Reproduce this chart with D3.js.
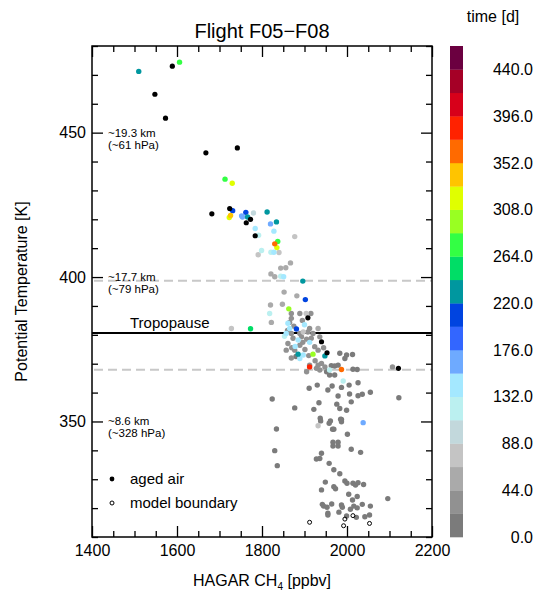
<!DOCTYPE html>
<html><head><meta charset="utf-8">
<script src="https://cdn.jsdelivr.net/npm/d3@7"></script>
<style>body{margin:0;background:#fff} text{font-family:"Liberation Sans",Arial,Helvetica,sans-serif}</style>
</head><body><svg id="c" width="537" height="599"></svg>
<script>
// ---------- data ----------
const title = "Flight F05\u2212F08";
const xTicksMajor = [1400, 1600, 1800, 2000, 2200];
const yTicksMajor = [350, 400, 450];
const colorTicks = [0, 44, 88, 132, 176, 220, 264, 308, 352, 396, 440];
const colorBins = [0,22,44,66,88,110,132,154,176,198,220,242,264,286,308,330,352,374,396,418,440,462];
const binColors = ["#7b7b7b","#919191","#aaaaaa","#c4c4c4","#c2d8dc","#bbf0f0","#a4e8ff","#6eaaff","#3366ff","#0044e0",
  "#00979f","#00dd66","#33ff44","#99ff22","#e0ff00","#ffc400","#ff6a00","#ff2200","#d7001a","#a50026","#6b0040"];
// colored points: [CH4 ppbv, theta K, time d]
const ch4 = [1510,1606,1713,1730,1731,1726,1723,1762,1754,1766,1780,1812,1834,1820,1828,1784,1792,1877,1830,1837,1835,1799,1821,1828,1840,1791,1867,1856,1844,1821,1830,1844,1851,1896,1852,1882,1902,1820,1848,1863,1818,1822,1728,1773,1869,1889,1904,1915,1869,1865,1752,
 1861,1865,1881,1857,1869,1889,1897,1908,1912,1932,1920,1873,1885,1896,1912,1861,1889,1857,1877,1901,1869,1885,1897,1889,1920,1948,1916,1936,1932,1924,1912,1932,1928,1936,1940,1912,1905,1948,1853,1878,1893,1905,1870,1880,1910,1925,1945,1860,1875,1895,1900,
 1983,1999,2013,1995,1963,1971,1979,1987,2014,2024,1952,1959,1971,1959,2107,1991,2026,1965,1987,2005,1911,1930,1955,2055,2036,2026,1979,2006,2122,1824,1934,1976,2010,1877,1922,1983,1999,1987,1987,2038,1834,2001,1932,1937,1938,1958,1961,1966,1969,1985,
 1967,1979,1967,1979,1830,2010,2032,1940,1936,1928,1836,1958,1969,1983,1949,1995,2000,2014,2020,2026,2039,1969,1973,1940,2004,2024,2013,2096,1942,1945,1953,1964,1987,1989,2008,2016,2024,2036,2055,1955,1955,1981,1999,2022,2042,2053];
const theta = [471.2,474.4,433.9,432.5,423.0,421.3,420.6,422.4,420.8,420.8,422.2,422.5,419.1,418.4,415.9,416.8,414.5,414.0,411.5,412.3,410.2,409.2,408.6,408.6,408.5,407.7,404.9,403.2,403.1,401.1,400.1,400.3,400.1,398.6,394.8,393.5,392.2,390.3,390.6,389.0,387.4,384.3,382.2,382.1,387.4,387.4,387.4,387.4,385.7,384.3,421.2,
 384.0,382.2,382.0,380.5,380.5,380.5,381.0,381.0,382.2,382.2,380.5,378.8,378.2,377.4,377.4,377.0,376.4,374.7,374.7,374.9,372.0,373.3,373.0,371.8,373.3,372.7,378.8,379.3,374.7,375.9,369.5,369.5,368.4,367.8,370.1,368.9,367.2,368.9,379.5,376.0,379.3,378.5,375.5,372.5,372.8,371.0,375.5,381.5,383.0,385.0,383.5,
 373.6,373.0,373.2,371.8,369.3,369.2,369.5,368.0,368.1,368.0,367.2,366.1,366.1,367.8,368.9,364.0,363.4,362.3,361.8,362.6,361.5,362.6,360.9,360.1,359.4,358.9,358.8,359.5,358.2,357.8,356.5,356.0,356.8,354.7,354.2,354.5,353.9,350.7,349.9,349.6,347.4,345.6,348.5,351.1,350.2,349.4,350.2,347.3,347.3,350.8,
 342.8,342.8,341.5,341.5,339.9,340.4,339.3,339.0,337.2,337.0,334.7,335.5,333.3,331.9,329.0,329.4,328.6,328.6,328.0,328.8,328.2,327.4,326.7,326.3,324.8,324.0,322.8,323.3,321.3,320.7,320.3,321.4,321.1,320.3,319.6,320.7,320.1,321.3,320.7,318.2,317.6,318.6,317.3,316.8,317.0,317.6];
const age = [230,275,270,315,210,340,320,210,165,230,100,230,230,165,140,140,120,75,360,270,315,120,120,140,75,75,55,55,55,55,55,120,140,230,55,55,210,55,55,295,120,55,75,250,40,40,70,40,40,30,160,
 140,140,200,140,30,30,75,30,40,60,30,30,140,30,140,30,30,30,30,30,30,230,140,140,295,230,30,30,30,30,30,30,30,30,30,385,30,30,120,140,30,30,30,10,30,30,30,30,30,30,140,
 10,10,10,10,10,10,10,360,10,10,10,10,10,120,30,120,10,10,10,10,10,10,10,10,10,10,10,10,10,10,10,10,10,10,10,10,10,10,10,170,10,10,70,10,10,10,10,10,10,10,
 10,10,10,10,10,10,10,10,10,10,10,10,10,10,10,10,10,10,10,10,10,10,10,10,10,10,10,10,10,10,10,10,10,10,10,10,10,10,10,10,10,10,10,10,10,10];
// aged air (black)
const agedCh4 = [1589,1548,1573,1668,1742,1682,1724,1763,1773,1784,1908,1940,1953,2121];
const agedTheta = [473.0,463.3,455.0,443.0,444.7,421.9,423.7,418.8,420.0,414.3,385.9,377.6,373.8,368.4];
// model boundary (open)
const bndCh4 = [1912,1995,1992,2014,2053];
const bndTheta = [315.1,316.2,313.9,317.4,314.7];
// reference levels
const tropopause = 380.6;
const dashedLevels = [398.7, 367.9];
const altLevels = [450, 400, 350];
const altLine1 = ["~19.3 km", "~17.7 km", "~8.6 km"];
const altLine2 = ["(~61 hPa)", "(~79 hPa)", "(~328 hPa)"];

// ---------- drawing ----------
const svg = d3.select("#c");
const L = 92, R = 432, T = 46, B = 537;
const x = d3.scaleLinear().domain([1400, 2200]).range([L, R]);
const y = d3.scaleLinear().domain([310, 480]).range([B, T]);
const color = d3.scaleThreshold().domain(colorBins.slice(1, -1)).range(binColors);

const xMinor = d3.range(1400, 2201, 50).filter(v => !xTicksMajor.includes(v));
const yMinor = d3.range(310, 481, 10).filter(v => !yTicksMajor.includes(v));

function styleAxis(g) { g.select(".domain").remove(); g.selectAll("line").attr("stroke", "#000").attr("stroke-width", 1.3); g.selectAll("text").attr("font-size", 16).attr("fill", "#000").attr("font-family", '"Liberation Sans",Arial,sans-serif'); }

svg.append("g").attr("transform", `translate(0,${B})`).call(d3.axisBottom(x).tickValues(xTicksMajor).tickSize(-11).tickPadding(8).tickFormat(d3.format("d"))).call(styleAxis);
svg.append("g").attr("transform", `translate(0,${B})`).call(d3.axisBottom(x).tickValues(xMinor).tickSize(-6).tickFormat("")).call(styleAxis);
svg.append("g").attr("transform", `translate(0,${T})`).call(d3.axisTop(x).tickValues(xTicksMajor).tickSize(-11).tickFormat("")).call(styleAxis);
svg.append("g").attr("transform", `translate(0,${T})`).call(d3.axisTop(x).tickValues(xMinor).tickSize(-6).tickFormat("")).call(styleAxis);
svg.append("g").attr("transform", `translate(${L},0)`).call(d3.axisLeft(y).tickValues(yTicksMajor).tickSize(-11).tickPadding(6).tickFormat(d3.format("d"))).call(styleAxis);
svg.append("g").attr("transform", `translate(${L},0)`).call(d3.axisLeft(y).tickValues(yMinor).tickSize(-6).tickFormat("")).call(styleAxis);
svg.append("g").attr("transform", `translate(${R},0)`).call(d3.axisRight(y).tickValues(yTicksMajor).tickSize(-11).tickFormat("")).call(styleAxis);
svg.append("g").attr("transform", `translate(${R},0)`).call(d3.axisRight(y).tickValues(yMinor).tickSize(-6).tickFormat("")).call(styleAxis);

// reference lines
svg.selectAll("line.dash").data(dashedLevels).join("line").attr("class", "dash")
  .attr("x1", L + 2).attr("x2", R).attr("y1", d => y(d)).attr("y2", d => y(d))
  .attr("stroke", "#c8c8c8").attr("stroke-width", 2).attr("stroke-dasharray", "9,5");
svg.append("line").attr("x1", L).attr("x2", R).attr("y1", y(tropopause)).attr("y2", y(tropopause))
  .attr("stroke", "#000").attr("stroke-width", 2);
svg.append("text").attr("x", 130).attr("y", y(tropopause) - 5).attr("font-size", 15).text("Tropopause");

// altitude labels
altLevels.forEach((lv, i) => {
  svg.append("text").attr("x", 108).attr("y", y(lv) + 4).attr("font-size", 11.5).text(altLine1[i]);
  svg.append("text").attr("x", 108).attr("y", y(lv) + 16).attr("font-size", 11.5).text(altLine2[i]);
});

// points
const pts = ch4.map((c, i) => ({ c, t: theta[i], a: age[i] })).sort((p, q) => p.a - q.a);
svg.append("g").selectAll("circle").data(pts).join("circle")
  .attr("cx", d => x(d.c)).attr("cy", d => y(d.t)).attr("r", 2.7).attr("fill", d => color(d.a));
svg.append("g").selectAll("circle").data(agedCh4).join("circle")
  .attr("cx", d => x(d)).attr("cy", (d, i) => y(agedTheta[i])).attr("r", 2.6).attr("fill", "#000");
svg.append("g").selectAll("circle").data(bndCh4).join("circle")
  .attr("cx", d => x(d)).attr("cy", (d, i) => y(bndTheta[i])).attr("r", 2).attr("fill", "none").attr("stroke", "#000").attr("stroke-width", 1);

// frame
svg.append("rect").attr("x", L).attr("y", T).attr("width", R - L).attr("height", B - T)
  .attr("fill", "none").attr("stroke", "#000").attr("stroke-width", 1.5);

// legend
svg.append("circle").attr("cx", 112).attr("cy", 479).attr("r", 2.4).attr("fill", "#000");
svg.append("text").attr("x", 130).attr("y", 484).attr("font-size", 15).text("aged air");
svg.append("circle").attr("cx", 112).attr("cy", 503).attr("r", 2).attr("fill", "none").attr("stroke", "#000");
svg.append("text").attr("x", 130).attr("y", 508).attr("font-size", 15).text("model boundary");

// titles
svg.append("text").attr("x", (L + R) / 2).attr("y", 38).attr("text-anchor", "middle").attr("font-size", 20).text(title);
const xl = svg.append("text").attr("x", (L + R) / 2).attr("y", 586).attr("text-anchor", "middle").attr("font-size", 16);
xl.append("tspan").text("HAGAR CH");
xl.append("tspan").attr("font-size", 10).attr("dy", 4).text("4");
xl.append("tspan").attr("dy", -4).text(" [ppbv]");
svg.append("text").attr("transform", `translate(27,${(T + B) / 2}) rotate(-90)`).attr("text-anchor", "middle").attr("font-size", 16).text("Potential Temperature [K]");

// colorbar
const cy = d3.scaleLinear().domain([0, 462]).range([B, T]);
const cb = svg.append("g");
cb.selectAll("rect").data(binColors).join("rect")
  .attr("x", 450).attr("width", 13)
  .attr("y", (d, i) => cy(colorBins[i + 1])).attr("height", (d, i) => cy(colorBins[i]) - cy(colorBins[i + 1]) + 0.3)
  .attr("fill", d => d);
cb.selectAll("text").data(colorTicks).join("text")
  .attr("x", 533).attr("y", d => cy(d)).attr("dy", "0.35em").attr("text-anchor", "end").attr("font-size", 16)
  .text(d => d.toFixed(1));
svg.append("text").attr("x", 493).attr("y", 22).attr("text-anchor", "middle").attr("font-size", 16).text("time [d]");
</script></body></html>
